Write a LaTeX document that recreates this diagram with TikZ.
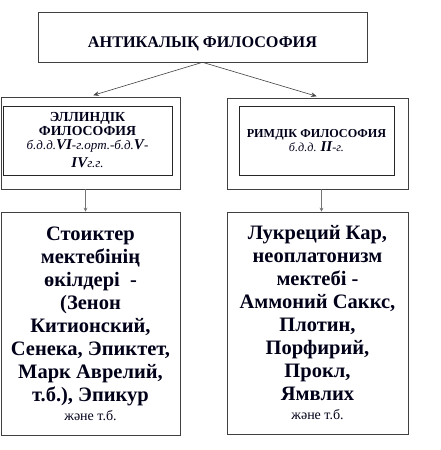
\documentclass[tikz,border=0pt]{standalone}
\usepackage{fontspec}
\setmainfont{Liberation Serif}
\usetikzlibrary{positioning,arrows.meta}

\begin{document}
\begin{tikzpicture}[
    x=1pt,y=-1pt,
    >={Stealth[length=2mm,width=1.6mm]},
    every node/.style={inner sep=0pt,align=center,text=black!90!blue},
    frame/.style={draw=black!75,line width=0.6pt,rectangle},
    inner/.style={draw=black!85,line width=0.8pt,rectangle},
    big/.style={font=\fontsize{20.5}{23}\selectfont\bfseries},
    link/.style={draw=black!75,line width=0.6pt,->},
    drop/.style={draw=black!55,line width=0.7pt,-{Stealth[length=1.4mm,width=1.4mm]}}
  ]
  \useasboundingbox (0,0) rectangle (441,450);
  % main heading
  \node[frame,minimum width=329pt,minimum height=50pt,text height=22pt,text depth=2pt,
        font=\fontsize{16.2}{18}\selectfont\bfseries] (top) at (202.5,37) {АНТИКАЛЫҚ ФИЛОСОФИЯ};
  % greek branch
  \node[frame,minimum width=179pt,minimum height=92pt] (lo) at (90.5,143) {};
  \node[inner,font=\fontsize{13.8}{14}\selectfont,minimum width=169pt,minimum height=69pt] (li) at (87.5,140.5)
    {{\bfseries ЭЛЛИНДІК}\\{\bfseries ФИЛОСОФИЯ}\\
     {\fontsize{13}{14}\selectfont\itshape б.д.д.{\fontsize{15}{14}\selectfont\bfseries VI}-г.орт.-б.д.{\fontsize{15}{14}\selectfont\bfseries V}-}\\[4pt]
     {\fontsize{13}{14}\selectfont\itshape{\fontsize{15}{14}\selectfont\bfseries IV}г.г.}};
  % roman branch
  \node[frame,minimum width=181pt,minimum height=91pt] (ro) at (317.5,143.5) {};
  \node[inner,font=\fontsize{12.2}{14}\selectfont,minimum width=155pt,minimum height=69pt] (ri) at (316.5,140.5)
    {{\bfseries РИМДІК ФИЛОСОФИЯ}\\
     {\itshape б.д.д. {\fontsize{15}{14}\selectfont\bfseries ІІ}-г.}};
  % schools and names
  \node[frame,big,minimum width=179pt,minimum height=223pt] (lb) at (90.5,323.5)
    {Стоиктер\\мектебінің\\өкілдері~ -\\(Зенон\\Китионский,\\Сенека, Эпиктет,\\Марк Аврелий,\\т.б.), Эпикур\\[-4pt]
     {\fontsize{14}{15}\selectfont\mdseries және т.б.}};
  \node[frame,big,minimum width=181pt,minimum height=222pt] (rb) at (317.5,323)
    {Лукреций Кар,\\неоплатонизм\\мектебі -\\Аммоний Саккс,\\Плотин,\\Порфирий,\\Прокл,\\Ямвлих\\[-4pt]
     {\fontsize{14}{15}\selectfont\mdseries және т.б.}};
  % connectors
  \draw[link,shorten >=5pt] (top.south) -- ([xshift=-2]lo.north);
  \draw[link,shorten >=5pt] (top.south) -- ([xshift=4]ro.north);
  \draw[drop] ([xshift=-5]lo.south) -- ([xshift=-5]lb.north);
  \draw[drop] ([xshift=4]ro.south) -- ([xshift=4]rb.north);
\end{tikzpicture}
\end{document}
